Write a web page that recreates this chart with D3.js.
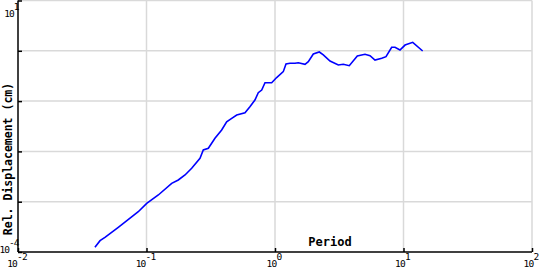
<!DOCTYPE html>
<html>
<head>
<meta charset="utf-8">
<script src="https://cdnjs.cloudflare.com/ajax/libs/d3/7.8.5/d3.min.js"></script>
<style>
  body { margin: 0; background: #fff; }
  svg { display: block; }
</style>
</head>
<body>
<div id="chart"></div>
<script>
'use strict';

const period = [0.0397, 0.0435, 0.0475, 0.0603, 0.0863, 0.1004, 0.1236, 0.157, 0.1768, 0.1994,
  0.2247, 0.2608, 0.2767, 0.3029, 0.341, 0.3846, 0.4206, 0.4603, 0.5036, 0.584,
  0.638, 0.698, 0.741, 0.788, 0.836, 0.942, 1.03, 1.16, 1.218, 1.308,
  1.431, 1.518, 1.712, 1.816, 1.987, 2.213, 2.377, 2.68, 3.11, 3.40,
  3.785, 4.37, 5.016, 5.49, 6.0, 6.77, 7.31, 8.09, 8.59, 9.39,
  10.28, 11.8, 14.1];
const displacement = [1.24e-4, 1.68e-4, 1.96e-4, 3.10e-4, 6.32e-4, 9.29e-4, 1.36e-3, 2.32e-3, 2.70e-3, 3.40e-3,
  4.61e-3, 7.30e-3, 0.01067, 0.01154, 0.0182, 0.02664, 0.0389, 0.0455, 0.053, 0.0587,
  0.0775, 0.105, 0.147, 0.166, 0.232, 0.232, 0.294, 0.385, 0.547, 0.564,
  0.564, 0.580, 0.540, 0.607, 0.863, 0.946, 0.826, 0.627, 0.523, 0.540,
  0.506, 0.789, 0.851, 0.80, 0.656, 0.709, 0.764, 1.174, 1.174, 1.037,
  1.30, 1.475, 0.99];

const xTicks = [1e-2, 1e-1, 1e0, 1e1, 1e2];
const xTickExp = ['-2', '-1', '0', '1', '2'];
const yTicks = [1e-4, 1e-3, 1e-2, 1e-1, 1e0, 1e1];
const yLabelTicks = [1e-4, 1e1];
const yLabelExp = ['-4', '1'];

let width = 540,
    height = 270;

let x = d3.scaleLog().domain([1e-2, 1e2]).range([18, 532]);
let y = d3.scaleLog().domain([1e-4, 1e1]).range([252, 0.5]);

let svg = d3.select('#chart')
  .append('svg')
    .attr('width', width)
    .attr('height', height);

// grid
svg.append('g')
  .selectAll('line')
  .data(xTicks.slice(1))
  .enter().append('line')
    .attr('x1', d => x(d)).attr('x2', d => x(d))
    .attr('y1', y(1e1)).attr('y2', y(1e-4))
    .attr('stroke', '#d9d9d9')
    .attr('stroke-width', 1.5);

svg.append('g')
  .selectAll('line')
  .data(yTicks.slice(1))
  .enter().append('line')
    .attr('x1', x(1e-2)).attr('x2', x(1e2))
    .attr('y1', d => y(d)).attr('y2', d => y(d))
    .attr('stroke', '#d9d9d9')
    .attr('stroke-width', 1.5);

// axes
svg.append('g')
  .attr('transform', 'translate(0,' + y(1e-4) + ')')
  .call(d3.axisTop(x).tickValues(xTicks).tickSize(4).tickFormat(''))
  .call(g => g.selectAll('path, line').attr('stroke', '#000').attr('stroke-width', 1.5));

svg.append('g')
  .attr('transform', 'translate(' + x(1e-2) + ',0)')
  .call(d3.axisRight(y).tickValues(yTicks).tickSize(4).tickFormat(''))
  .call(g => g.selectAll('path, line').attr('stroke', '#000').attr('stroke-width', 1.5));

svg.selectAll('.domain').attr('d', null);
svg.append('line')
  .attr('x1', x(1e-2)).attr('x2', x(1e2))
  .attr('y1', y(1e-4)).attr('y2', y(1e-4))
  .attr('stroke', '#000').attr('stroke-width', 1.5);
svg.append('line')
  .attr('x1', x(1e-2)).attr('x2', x(1e-2))
  .attr('y1', y(1e1)).attr('y2', y(1e-4))
  .attr('stroke', '#000').attr('stroke-width', 1.5);

// tick labels
let fontTick = '"DejaVu Sans Mono", monospace';

let xl = svg.append('g')
  .selectAll('text')
  .data(xTicks)
  .enter().append('text')
    .attr('x', d => x(d) - 1)
    .attr('y', 267)
    .attr('text-anchor', 'middle')
    .attr('font-family', fontTick)
    .attr('font-size', 9.5)
    .attr('letter-spacing', -0.8)
    .attr('fill', '#000');
xl.append('tspan').text('10');
xl.append('tspan').attr('dy', -7).text((d, i) => xTickExp[i]);

let yl = svg.append('g')
  .selectAll('text')
  .data(yLabelTicks)
  .enter().append('text')
    .attr('x', 18.5)
    .attr('y', d => Math.max(y(d) + 1, 17))
    .attr('text-anchor', 'end')
    .attr('font-family', fontTick)
    .attr('font-size', 9.5)
    .attr('letter-spacing', -1)
    .attr('fill', '#000');
yl.append('tspan').text('10');
yl.append('tspan').attr('dy', -7).text((d, i) => yLabelExp[i]);

// axis titles
svg.append('text')
  .attr('x', 330)
  .attr('y', 246)
  .attr('text-anchor', 'middle')
  .attr('font-family', fontTick)
  .attr('font-weight', 'bold')
  .attr('font-size', 12)
  .text('Period');

svg.append('text')
  .attr('transform', 'translate(12,159) rotate(-90)')
  .attr('text-anchor', 'middle')
  .attr('font-family', fontTick)
  .attr('font-weight', 'bold')
  .attr('font-size', 11.5)
  .text('Rel. Displacement (cm)');

// curve
let data = period.map((p, i) => ({ p: p, v: displacement[i] }));

let line = d3.line()
  .x(d => x(d.p))
  .y(d => y(d.v));

svg.append('path')
  .datum(data)
  .attr('d', line)
  .attr('fill', 'none')
  .attr('stroke', '#0000ff')
  .attr('stroke-width', 1.6);
</script>
</body>
</html>
